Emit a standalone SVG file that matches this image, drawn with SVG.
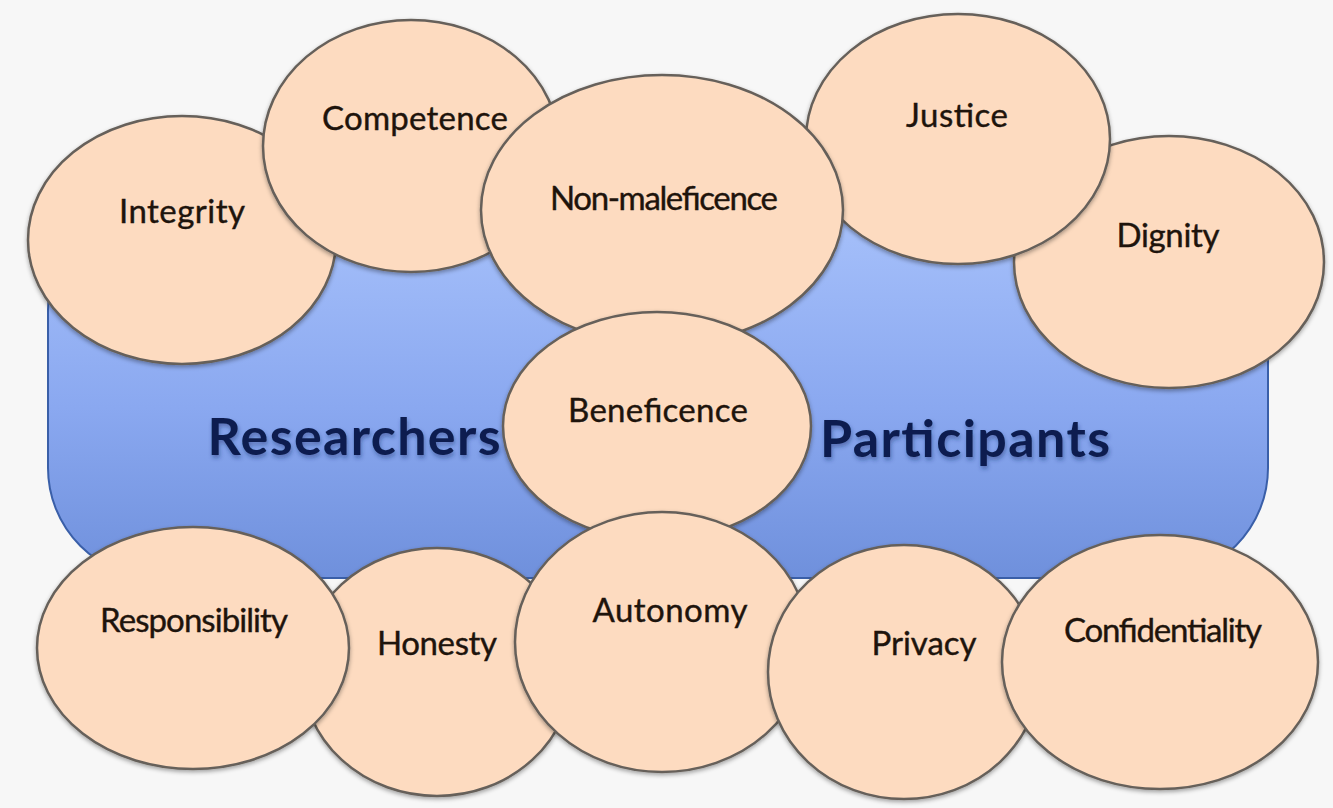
<svg xmlns="http://www.w3.org/2000/svg" width="1333" height="808" viewBox="0 0 1333 808">
<defs>
<linearGradient id="blueGrad" x1="0" y1="0" x2="0" y2="1">
<stop offset="0" stop-color="#a8c2fb"/>
<stop offset="0.55" stop-color="#8aa8f0"/>
<stop offset="1" stop-color="#6f90dc"/>
</linearGradient>
<filter id="shadow" x="-10%" y="-10%" width="120%" height="125%">
<feDropShadow dx="0" dy="2" stdDeviation="2" flood-color="#000" flood-opacity="0.35"/>
</filter>
<filter id="tshadow" x="-5%" y="-20%" width="110%" height="150%">
<feDropShadow dx="1" dy="3" stdDeviation="2" flood-color="#1a2a6a" flood-opacity="0.45"/>
</filter>
</defs>
<style>
.node{fill:#fddbc0;stroke:#66605a;stroke-width:2.5;filter:url(#shadow)}
.lbl{font-family:Lato,"Liberation Sans",sans-serif;font-size:33px;fill:#1e140c;stroke:#1e140c;stroke-width:0.4;text-anchor:middle}
.big{font-family:Lato,"Liberation Sans",sans-serif;font-size:52px;font-weight:bold;fill:#0b1f4f;text-anchor:middle;filter:url(#tshadow)}
</style>
<rect x="0" y="0" width="1333" height="808" fill="#f7f7f7"/>
<g id="background">
<rect x="48" y="200" width="1220" height="378" rx="110" ry="110" fill="url(#blueGrad)" stroke="#3a5fa8" stroke-width="2"/>
</g>
<g id="connectors"></g>
<g id="integrity"><ellipse class="node" cx="182" cy="240" rx="154" ry="124"/><text class="lbl" x="182" y="223" textLength="126">Integrity</text></g>
<g id="competence"><ellipse class="node" cx="411" cy="146" rx="148" ry="126"/><text class="lbl" x="415" y="130" textLength="186">Competence</text></g>
<g id="dignity"><ellipse class="node" cx="1169" cy="262" rx="155" ry="126"/><text class="lbl" x="1168" y="247" textLength="103">Dignity</text></g>
<g id="justice"><ellipse class="node" cx="958" cy="139" rx="152" ry="125"/><text class="lbl" x="957" y="127" textLength="102">Justice</text></g>
<g id="non-maleficence"><ellipse class="node" cx="662" cy="210" rx="181" ry="135"/><text class="lbl" x="664" y="210" textLength="228">Non-maleficence</text></g>
<g id="beneficence"><ellipse class="node" cx="657" cy="426" rx="154" ry="114"/><text class="lbl" x="658" y="422" textLength="180">Beneficence</text></g>
<g id="honesty"><ellipse class="node" cx="437" cy="672" rx="135" ry="124"/><text class="lbl" x="437" y="655" textLength="120">Honesty</text></g>
<g id="responsibility"><ellipse class="node" cx="193" cy="648" rx="156" ry="121"/><text class="lbl" x="194" y="632" textLength="188">Responsibility</text></g>
<g id="autonomy"><ellipse class="node" cx="662" cy="642" rx="147" ry="130"/><text class="lbl" x="670" y="622" textLength="155">Autonomy</text></g>
<g id="privacy"><ellipse class="node" cx="904" cy="672" rx="136" ry="127"/><text class="lbl" x="924" y="655" textLength="105">Privacy</text></g>
<g id="confidentiality"><ellipse class="node" cx="1160" cy="662" rx="158" ry="127"/><text class="lbl" x="1163" y="642" textLength="198">Confidentiality</text></g>
<g id="labels">
<text class="big" x="354" y="455" textLength="293">Researchers</text>
<text class="big" x="965" y="457" textLength="290">Participants</text>
</g>
</svg>
